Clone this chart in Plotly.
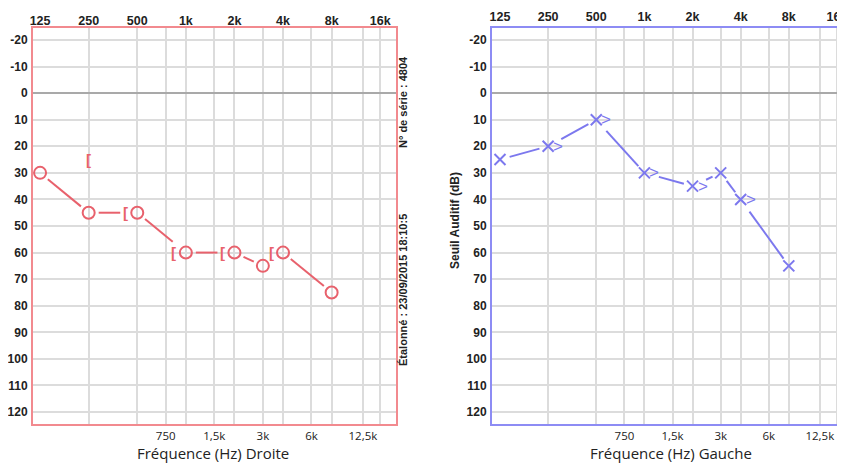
import numpy as np
import plotly.graph_objects as go

# ---------------- data ----------------
top_freqs = [125, 250, 500, 1000, 2000, 4000, 8000, 16000]
top_labels = ["125", "250", "500", "1k", "2k", "4k", "8k", "16k"]
mid_freqs = [750, 1500, 3000, 6000, 12500]
mid_labels = ["750", "1,5k", "3k", "6k", "12,5k"]
db_ticks = list(range(-20, 130, 10))

# Right ear (Droite) - air conduction (O) and masked bone conduction ([)
right_air_f = [125, 250, 500, 1000, 2000, 3000, 4000, 8000]
right_air_db = [30, 45, 45, 60, 60, 65, 60, 75]
right_bone_f = [250, 500, 1000, 2000, 4000]
right_bone_db = [25, 45, 60, 60, 60]

# Left ear (Gauche) - air conduction (X) and bone conduction (>)
left_air_f = [125, 250, 500, 1000, 2000, 3000, 4000, 8000]
left_air_db = [25, 20, 10, 30, 35, 30, 40, 65]
left_bone_f = [250, 500, 1000, 2000, 4000]
left_bone_db = [20, 10, 30, 35, 40]

# ---------------- layout geometry ----------------
W, H = 845, 464
OFF = 8  # page body margin
RED = "#e8616c"
RED_BORDER = "#f28a8f"
BLUE = "#7c78ee"
BLUE_BORDER = "#8d8cf4"
GRID = "#dcdcdc"

def px(xs):  # screen x -> paper fraction
    return (xs - OFF) / W

def py(ys):  # screen y -> paper fraction
    return 1 - (ys - OFF) / H

y_top_px, y_bot_px = 28, 424
y_range = [124.5, -24.5]
px_per_db = (y_bot_px - y_top_px) / (y_range[0] - y_range[1])

L_dom = [px(33), px(396)]
L_range = [np.log10(113), np.log10(20040)]
R_dom = [px(492), 1.0]
R_width_px = (R_dom[1] - R_dom[0]) * W
R_range = [2.0469, 2.0469 + R_width_px / 159.9]
y_dom = [py(y_bot_px), py(y_top_px)]

def px_per_dec(dom, rng):
    return (dom[1] - dom[0]) * W / (rng[1] - rng[0])

def gapped_segments(fs, dbs, ppd, start_gap, end_gap):
    xs, ys = [], []
    for i in range(len(fs) - 1):
        lx1, lx2 = np.log10(fs[i]), np.log10(fs[i + 1])
        y1, y2 = dbs[i], dbs[i + 1]
        dx = (lx2 - lx1) * ppd
        dy = (y2 - y1) * px_per_db
        L = np.hypot(dx, dy)
        g1, g2 = start_gap[i], end_gap[i + 1]
        if L <= g1 + g2 + 2:
            continue
        t1, t2 = g1 / L, 1 - g2 / L
        xs += [10 ** (lx1 + t1 * (lx2 - lx1)), 10 ** (lx1 + t2 * (lx2 - lx1)), None]
        ys += [y1 + t1 * (y2 - y1), y1 + t2 * (y2 - y1), None]
    return xs, ys

fig = go.Figure()

# ---- right ear (left panel) ----
ppd_L = px_per_dec(L_dom, L_range)
r_has_bone = [any(bf == f and bd == d for bf, bd in zip(right_bone_f, right_bone_db))
              for f, d in zip(right_air_f, right_air_db)]
sg = [10] * len(right_air_f)
eg = [17 if b else 10 for b in r_has_bone]
xs, ys = gapped_segments(right_air_f, right_air_db, ppd_L, sg, eg)
fig.add_trace(go.Scatter(x=xs, y=ys, mode="lines", line=dict(color=RED, width=2),
                         xaxis="x", yaxis="y", hoverinfo="skip", showlegend=False))
fig.add_trace(go.Scatter(x=right_air_f, y=right_air_db, mode="markers",
                         marker=dict(symbol="circle-open", size=12, color=RED,
                                     line=dict(width=2, color=RED)),
                         xaxis="x", yaxis="y", showlegend=False))

# ---- left ear (right panel) ----
ppd_R = px_per_dec(R_dom, R_range)
l_has_bone = [any(bf == f and bd == d for bf, bd in zip(left_bone_f, left_bone_db))
              for f, d in zip(left_air_f, left_air_db)]
sg = [15 if b else 10 for b in l_has_bone]
eg = [9] * len(left_air_f)
xs, ys = gapped_segments(left_air_f, left_air_db, ppd_R, sg, eg)
fig.add_trace(go.Scatter(x=xs, y=ys, mode="lines", line=dict(color=BLUE, width=2),
                         xaxis="x2", yaxis="y2", hoverinfo="skip", showlegend=False))
fig.add_trace(go.Scatter(x=left_air_f, y=left_air_db, mode="markers",
                         marker=dict(symbol="x-thin-open", size=11, color=BLUE,
                                     line=dict(width=2, color=BLUE)),
                         xaxis="x2", yaxis="y2", showlegend=False))

annotations = []
# bone symbols
for f, d in zip(right_bone_f, right_bone_db):
    coincide = any(af == f and ad == d for af, ad in zip(right_air_f, right_air_db))
    annotations.append(dict(x=np.log10(f), y=d, xref="x", yref="y", text="<b>[</b>",
                            showarrow=False, xshift=-12 if coincide else 0,
                            xanchor="center", yanchor="middle",
                            font=dict(family="Arial", size=15, color=RED)))
for f, d in zip(left_bone_f, left_bone_db):
    coincide = any(af == f and ad == d for af, ad in zip(left_air_f, left_air_db))
    annotations.append(dict(x=np.log10(f), y=d, xref="x2", yref="y2", text=">",
                            showarrow=False, xshift=10 if coincide else 0,
                            xanchor="center", yanchor="middle",
                            font=dict(family="Arial", size=17, color=BLUE)))

# titles and side texts
annotations += [
    dict(x=px(135), y=py(453), xref="paper", yref="paper", text="Fréquence (Hz) Droite",
         xanchor="left", yanchor="middle",
         showarrow=False, font=dict(family="Open Sans", size=15, color="#222")),
    dict(x=px(588), y=py(453), xref="paper", yref="paper", text="Fréquence (Hz) Gauche",
         xanchor="left", yanchor="middle",
         showarrow=False, font=dict(family="Open Sans", size=15, color="#222")),
    dict(x=px(455), y=py(220), xref="paper", yref="paper", text="<b>Seuil Auditif (dB)</b>",
         xanchor="center", yanchor="middle",
         textangle=-90, showarrow=False, font=dict(family="Arial", size=12, color="#222")),
    dict(x=px(403), y=py(102), xref="paper", yref="paper", text="<b>N° de série : 4804</b>",
         xanchor="center", yanchor="middle",
         textangle=-90, showarrow=False, font=dict(family="Arial", size=11, color="#222")),
    dict(x=px(403), y=py(290), xref="paper", yref="paper",
         text="<b>Étalonné : 23/09/2015 18:10:5</b>",
         xanchor="center", yanchor="middle",
         textangle=-90, showarrow=False, font=dict(family="Arial", size=11, color="#222")),
]

grid_vals = top_freqs[1:] + mid_freqs
grid_text = [""] * (len(top_freqs) - 1) + mid_labels

tickfont_b = dict(family="Arial", size=12.5, color="#222", weight="bold")
tickfont_y = dict(family="Arial", size=12, color="#222", weight="bold")
tickfont_r = dict(family="Open Sans", size=11.5, color="#222")

def bottom_axis(dom, rng, border, anchor, mirror):
    return dict(domain=dom, type="log", range=rng, anchor=anchor, automargin=False,
                tickmode="array", tickvals=grid_vals, ticktext=grid_text,
                showgrid=True, gridcolor=GRID, gridwidth=1.5, ticks="",
                tickfont=tickfont_r, ticklabelstandoff=0,
                showline=True, linecolor=border, linewidth=2, mirror=mirror,
                zeroline=False, fixedrange=True)

def top_axis(rng, border, overlay, anchor, showline):
    return dict(type="log", range=rng, overlaying=overlay, side="top", anchor=anchor,
                automargin=False,
                tickmode="array", tickvals=top_freqs, ticktext=top_labels,
                showgrid=False, ticks="", tickfont=tickfont_b, ticklabelstandoff=0,
                showline=showline, linecolor=border, linewidth=2, zeroline=False,
                fixedrange=True)

def y_axis(border, anchor, mirror):
    return dict(domain=y_dom, range=y_range, anchor=anchor, automargin=False,
                tickmode="array",
                tickvals=db_ticks, ticktext=[str(v) for v in db_ticks],
                showgrid=True, gridcolor=GRID, gridwidth=1.5, ticks="",
                tickfont=tickfont_y, ticklabelstandoff=1,
                zeroline=True, zerolinecolor="#a9a9a9", zerolinewidth=2,
                showline=True, linecolor=border, linewidth=2, mirror=mirror,
                fixedrange=True)

fig.update_layout(
    width=W, height=H, margin=dict(l=0, r=0, t=0, b=0, autoexpand=False),
    paper_bgcolor="white", plot_bgcolor="white",
    xaxis=bottom_axis(L_dom, L_range, RED_BORDER, "y", True),
    xaxis2=bottom_axis(R_dom, R_range, BLUE_BORDER, "y2", False),
    xaxis3=top_axis(L_range, RED_BORDER, "x", "y", False),
    xaxis4=top_axis(R_range, BLUE_BORDER, "x2", "y2", True),
    yaxis=y_axis(RED_BORDER, "x", True),
    yaxis2=y_axis(BLUE_BORDER, "x2", False),
    annotations=annotations,
    showlegend=False,
)
# dummy traces so top axes render
fig.add_trace(go.Scatter(x=[1000], y=[None], xaxis="x3", yaxis="y", showlegend=False, hoverinfo="skip"))
fig.add_trace(go.Scatter(x=[1000], y=[None], xaxis="x4", yaxis="y2", showlegend=False, hoverinfo="skip"))

fig.write_html("out.html")
